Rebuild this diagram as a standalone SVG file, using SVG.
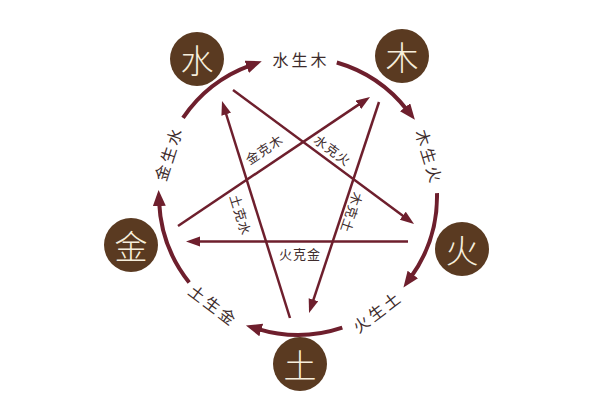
<svg xmlns="http://www.w3.org/2000/svg" width="600" height="400" viewBox="0 0 600 400">
<style>
.arc{fill:none;stroke:#6e1f2d;stroke-width:4;marker-end:url(#bigArrow)}
.ke{fill:none;stroke:#6e1f2d;stroke-width:2.5;marker-end:url(#smallArrow)}
.node circle{fill:#5a3a21}
.node text{fill:#f6eedc;font-family:"Noto Sans CJK SC","Noto Sans CJK JP",sans-serif;font-size:33px;font-weight:300;text-anchor:middle;dominant-baseline:central}
.lbl{fill:#3e2c2c;font-family:"Noto Sans CJK SC","Noto Sans CJK JP",sans-serif;font-size:16px;letter-spacing:3px;text-anchor:middle;dominant-baseline:central}
.klbl{fill:#3e2c2c;font-family:"Noto Sans CJK SC","Noto Sans CJK JP",sans-serif;font-size:13px;letter-spacing:1px;text-anchor:middle;dominant-baseline:central}
</style>
<defs>
<marker id="bigArrow" markerUnits="userSpaceOnUse" markerWidth="18" markerHeight="14" refX="4" refY="6.5" orient="auto">
<path d="M0,0 L16,6.5 L0,13 z" fill="#6e1f2d"/>
</marker>
<marker id="smallArrow" markerUnits="userSpaceOnUse" markerWidth="16" markerHeight="12" refX="3" refY="5" orient="auto">
<path d="M0,0 L14,5 L0,10 z" fill="#6e1f2d"/>
</marker>
</defs>
<rect width="600" height="400" fill="#ffffff"/>
<g id="connectors">
<path class="arc" d="M183,117.9 A139,139 0 0 1 250.5,65.4"/>
<path class="arc" d="M336.8,62.5 A139,139 0 0 1 407.5,110.4"/>
<path class="arc" d="M437,193.1 A139,139 0 0 1 410.5,277.7"/>
<path class="arc" d="M342.3,327.7 A139,139 0 0 1 257.4,328.9"/>
<path class="arc" d="M189.2,282.5 A139,139 0 0 1 159.1,202.1"/>
<line class="ke" x1="233" y1="90" x2="405.2" y2="217.5"/>
<line class="ke" x1="178" y1="226" x2="360.9" y2="103.1"/>
<line class="ke" x1="379" y1="102" x2="312.5" y2="302.6"/>
<line class="ke" x1="290" y1="318" x2="225.3" y2="111.5"/>
<line class="ke" x1="408" y1="241.5" x2="197" y2="241.5"/>
<text class="lbl" x="301" y="59">水生木</text>
<text class="lbl" transform="translate(430,157) rotate(73)">木生火</text>
<text class="lbl" transform="translate(377,311) rotate(-37)">火生土</text>
<text class="lbl" transform="translate(214,305) rotate(37)">土生金</text>
<text class="lbl" transform="translate(168,153) rotate(-72)">金生水</text>
<text class="klbl" transform="translate(264,149) rotate(-33.9)">金克木</text>
<text class="klbl" transform="translate(333,150) rotate(36.5)">水克火</text>
<text class="klbl" transform="translate(352,213) rotate(108.4)">木克土</text>
<text class="klbl" transform="translate(241,215) rotate(72.6)">土克水</text>
<text class="klbl" x="300" y="253">火克金</text>
</g>
<g id="node-shui" class="node"><circle cx="197" cy="59" r="27"/><text x="197" y="59">水</text></g>
<g id="node-mu" class="node"><circle cx="402" cy="56" r="27"/><text x="402" y="56">木</text></g>
<g id="node-huo" class="node"><circle cx="462" cy="249" r="27"/><text x="462" y="249">火</text></g>
<g id="node-jin" class="node"><circle cx="131" cy="245" r="27"/><text x="131" y="245">金</text></g>
<g id="node-tu" class="node"><circle cx="300" cy="364" r="27"/><text x="300" y="364">土</text></g>
</svg>
